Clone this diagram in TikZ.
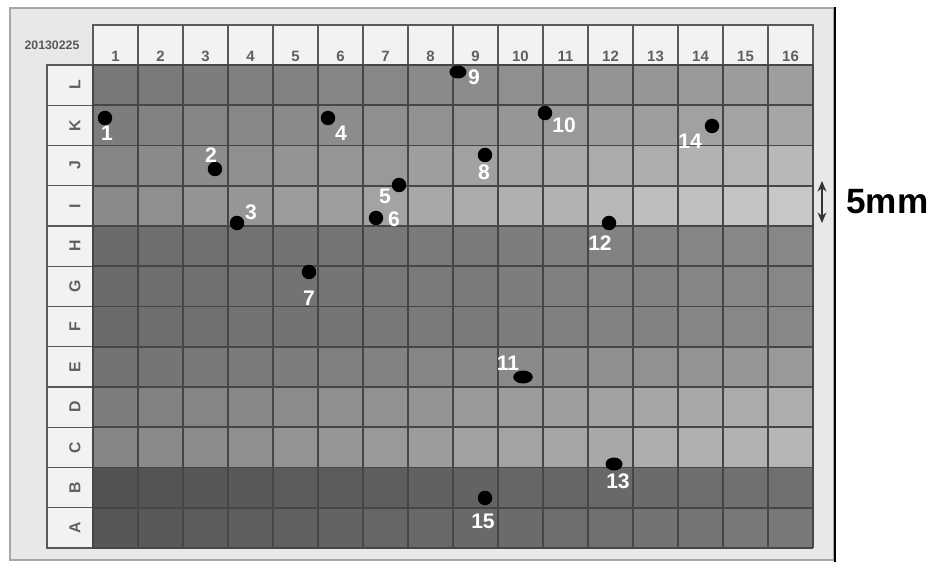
\documentclass[tikz,border=0pt]{standalone}
\usepackage{fontspec}
\setsansfont{Liberation Sans}
\usepackage{tikz}
\usetikzlibrary{
  shapes.geometric,
  arrows.meta,
  positioning
}
\definecolor{gridgray}{RGB}{70,70,70}
\definecolor{labgray}{RGB}{95,95,95}

\begin{document}
\begin{tikzpicture}[
  x=0.02cm, y=-0.02cm,
  gridline/.style={draw=gridgray, line width=0.9pt},
  headcell/.style={draw=black!65, fill=black!5, line width=0.8pt},
  collab/.style={font=\sffamily\bfseries\fontsize{8.5}{8.5}\selectfont, text=labgray, inner sep=0pt},
  rowlab/.style={font=\sffamily\bfseries\fontsize{9}{9}\selectfont, text=labgray, inner sep=0pt, rotate=90},
  dot/.style={circle, fill=black, inner sep=0pt, minimum size=0.29cm},
  wdot/.style={ellipse, fill=black, inner sep=0pt, minimum width=0.39cm, minimum height=0.26cm},
  num/.style={font=\sffamily\bfseries\fontsize{12}{12}\selectfont, text=white, inner sep=0pt}
]
  \useasboundingbox (0,0) rectangle (931,564);

  % photo frame
  \draw[black!35, fill=black!9, line width=0.8pt] (10,8) rectangle (834,560);
  \draw[black, line width=1.2pt] (835,7) -- (835,562);
  \node[font=\sffamily\bfseries\fontsize{7}{7}\selectfont, text=black!65] (date) at (52,45) {20130225};

  % header cells
  \foreach \c in {1,...,16} {
    \draw[headcell] (93+45*\c-45,25) rectangle (93+45*\c,65);
    \node[collab] (c\c) at (70.5+45*\c,56) {\c};
  }

  % rows with wells
  \foreach \r/\lft/\rgt [count=\j from 0] in {L/53/38, K/51/35, J/48/28, I/46/22, H/58/47, G/58/47, F/58/47, E/55/40, D/51/32, C/48/29, B/68/56, A/66/53} {
    \draw[headcell] (47,65+40.25*\j) rectangle (93,105.25+40.25*\j);
    \node[rowlab] (r\r) at (75,85.1+40.25*\j) {\r};
    \foreach \c in {1,...,16} {
      \pgfmathtruncatemacro\shade{\lft+(\rgt-\lft)*(\c-1)/15}
      \fill[black!\shade] (93+45*\c-45,65+40.25*\j) rectangle (93+45*\c,105.25+40.25*\j);
    }
  }

  % grid lines
  \foreach \c in {0,...,16}
    \draw[gridline] (93+45*\c,65) -- (93+45*\c,548);
  \foreach \j in {0,...,12}
    \draw[gridline] (93,65+40.25*\j) -- (813,65+40.25*\j);

  % marked points
  \node[dot] (d1) at (105,118) {};
  \node[dot] (d2) at (215,169) {};
  \node[dot] (d3) at (237,223) {};
  \node[dot] (d4) at (328,118) {};
  \node[dot] (d5) at (399,185) {};
  \node[dot] (d6) at (376,218) {};
  \node[dot] (d7) at (309,272) {};
  \node[dot] (d8) at (485,155) {};
  \node[wdot, minimum width=0.34cm] (d9) at (458,72) {};
  \node[dot] (d10) at (545,113) {};
  \node[wdot] (d11) at (523,377) {};
  \node[dot] (d12) at (609,223) {};
  \node[wdot, minimum width=0.34cm] (d13) at (614,464) {};
  \node[dot] (d14) at (712,126) {};
  \node[dot, minimum width=0.26cm] (d15) at (485,498) {};

  \node[num] (l1) at (107,133) {1};
  \node[num] (l2) at (211,155) {2};
  \node[num] (l3) at (251,212) {3};
  \node[num] (l4) at (341,133) {4};
  \node[num] (l5) at (385,196) {5};
  \node[num] (l6) at (394,219) {6};
  \node[num] (l7) at (309,298) {7};
  \node[num] (l8) at (484,172) {8};
  \node[num] (l9) at (474,77) {9};
  \node[num] (l10) at (564,125) {10};
  \node[num] (l11) at (508,363) {11};
  \node[num] (l12) at (600,243) {12};
  \node[num] (l13) at (618,481) {13};
  \node[num] (l14) at (690,141) {14};
  \node[num] (l15) at (483,521) {15};

  % scale bar
  \coordinate (s1) at (822,181);
  \coordinate (s2) at (822,223);
  \draw[{Stealth[length=6pt,width=5pt]}-{Stealth[length=6pt,width=5pt]}, line width=1.6pt, black!80] (s1) -- (s2);
  \node[font=\sffamily\bfseries\fontsize{20}{20}\selectfont, anchor=west, inner sep=0pt] (mm) at (846,202) {5mm};
\end{tikzpicture}
\end{document}
